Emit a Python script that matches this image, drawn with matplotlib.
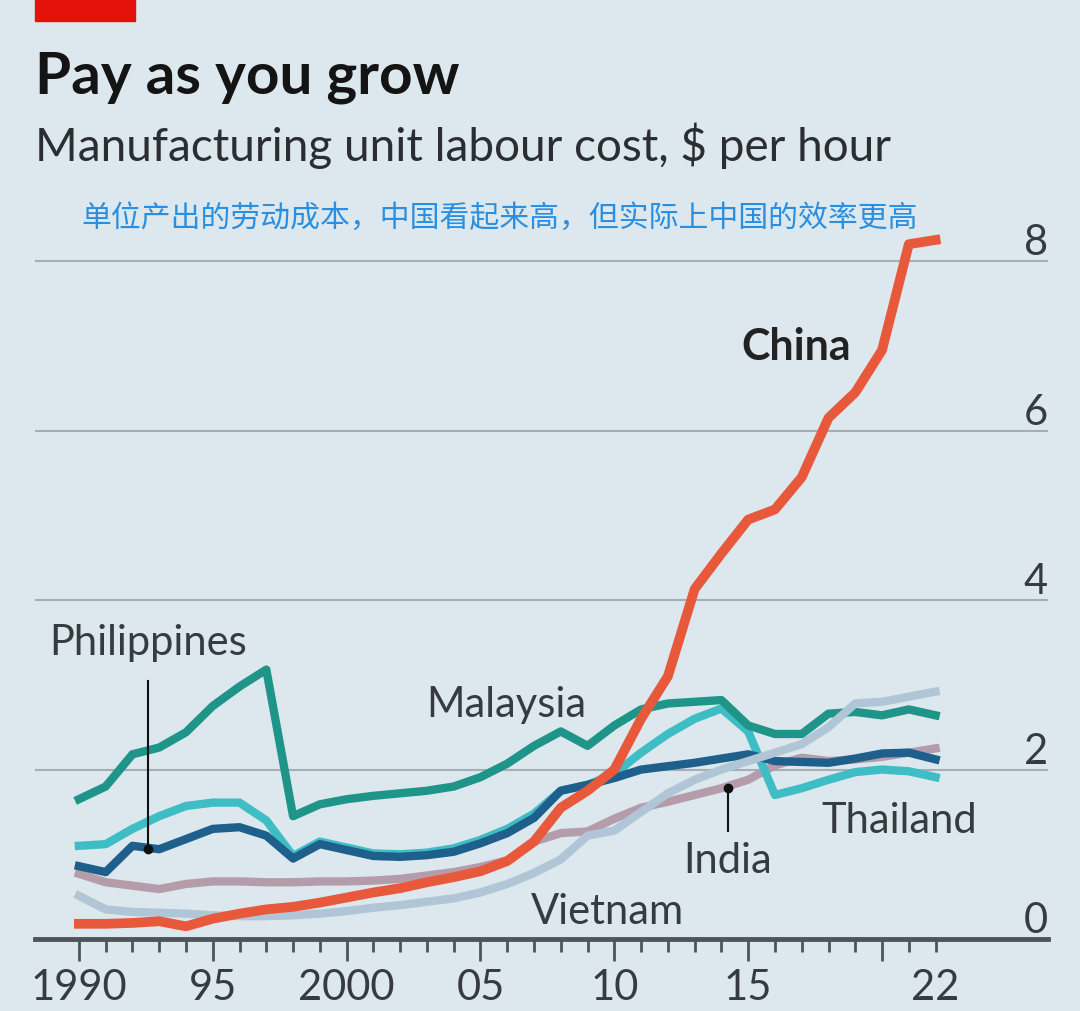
import numpy as np
import matplotlib
matplotlib.use("Agg")
import matplotlib.pyplot as plt
from matplotlib.patches import Rectangle

# data, $ per hour
years = np.arange(1990, 2023)
china = [0.18, 0.18, 0.19, 0.21, 0.15, 0.24, 0.30, 0.35, 0.38, 0.43,
         0.49, 0.55, 0.60, 0.67, 0.73, 0.80, 0.92, 1.15, 1.55, 1.75,
         2.00, 2.60, 3.10, 4.13, 4.55, 4.95, 5.07, 5.45, 6.15, 6.45,
         6.95, 8.20, 8.25]
malaysia = [1.65, 1.80, 2.18, 2.26, 2.44, 2.75, 2.98, 3.18, 1.45, 1.59,
            1.65, 1.69, 1.72, 1.75, 1.80, 1.91, 2.07, 2.28, 2.45, 2.28,
            2.52, 2.71, 2.78, 2.80, 2.82, 2.52, 2.42, 2.42, 2.66, 2.68,
            2.64, 2.71, 2.64]
thailand = [1.10, 1.12, 1.30, 1.45, 1.57, 1.61, 1.61, 1.40, 0.98, 1.15,
            1.08, 1.01, 1.00, 1.02, 1.07, 1.17, 1.30, 1.48, 1.75, 1.82,
            1.95, 2.20, 2.42, 2.60, 2.72, 2.45, 1.70, 1.78, 1.88, 1.97,
            2.00, 1.98, 1.91]
philippines = [0.86, 0.79, 1.10, 1.06, 1.18, 1.30, 1.32, 1.22, 0.95, 1.12,
               1.05, 0.98, 0.97, 0.99, 1.03, 1.13, 1.25, 1.43, 1.75, 1.82,
               1.90, 2.00, 2.04, 2.08, 2.13, 2.18, 2.10, 2.09, 2.08, 2.13,
               2.19, 2.20, 2.12]
india = [0.77, 0.67, 0.63, 0.59, 0.65, 0.68, 0.68, 0.67, 0.67, 0.68,
         0.68, 0.69, 0.71, 0.75, 0.79, 0.85, 0.93, 1.15, 1.25, 1.27,
         1.42, 1.55, 1.62, 1.70, 1.78, 1.88, 2.05, 2.14, 2.10, 2.12,
         2.15, 2.20, 2.25]
vietnam = [0.51, 0.35, 0.32, 0.31, 0.30, 0.28, 0.27, 0.27, 0.28, 0.30,
           0.33, 0.37, 0.40, 0.44, 0.48, 0.55, 0.65, 0.78, 0.94, 1.22,
           1.28, 1.50, 1.72, 1.88, 2.00, 2.10, 2.20, 2.30, 2.50, 2.78,
           2.80, 2.86, 2.92]

xtick_pos = [1990, 1995, 2000, 2005, 2010, 2015, 2020, 2022]
xtick_lab = ['1990', '95', '2000', '05', '10', '15', '', '22']
ytick_pos = [0, 2, 4, 6, 8]

bg = '#dce8ee'
txt = '#363b40'
plt.rcParams['font.family'] = ['Lato', 'DejaVu Sans']

fig = plt.figure(figsize=(10.8, 10.12), dpi=100, facecolor=bg)
ax = fig.add_axes([0.0324, 0.0711, 0.938, 0.731], facecolor=bg)

# series, back to front
ax.plot(years, india, color='#b59cab', lw=6, solid_joinstyle='round')
ax.plot(years, thailand, color='#3fbdc5', lw=6, solid_joinstyle='round')
ax.plot(years, philippines, color='#1e5f8c', lw=6, solid_joinstyle='round')
ax.plot(years, malaysia, color='#1f958a', lw=6, solid_joinstyle='round')
ax.plot(years, vietnam, color='#b0c6d6', lw=6, solid_joinstyle='round')
ax.plot(years, china, color='#e8583b', lw=7, solid_joinstyle='round')

ax.set_xlim(1988.36, 2026.2)
ax.set_ylim(0, 8.73)

for s in ['top', 'left', 'right']:
    ax.spines[s].set_visible(False)
ax.spines['bottom'].set_color('#4d555b')
ax.spines['bottom'].set_linewidth(3.5)
ax.spines['bottom'].set_zorder(5)

ax.set_yticks(ytick_pos)
ax.yaxis.tick_right()
ax.tick_params(axis='y', length=0, pad=0, labelsize=30, labelcolor=txt)
for lbl in ax.get_yticklabels():
    lbl.set_ha('right')
    lbl.set_va('bottom')
ax.grid(axis='y', color='#a4aeb4', lw=1.5, zorder=0)
ax.set_axisbelow(True)

ax.set_xticks(xtick_pos, labels=xtick_lab)
ax.set_xticks(years, minor=True)
ax.tick_params(axis='x', which='major', length=16, width=2, color='#4d555b',
               pad=5, labelsize=30, labelcolor=txt)
ax.tick_params(axis='x', which='minor', length=9.5, width=2, color='#4d555b')
ax.xaxis.get_major_ticks()[-1].tick1line.set_markersize(9.5)

# country labels
ax.text(2016.8, 7.0, 'China', fontsize=31, fontweight='bold', color='#222',
        ha='center', va='center')
ax.text(1992.6, 3.36, 'Philippines', fontsize=30, color=txt, ha='center', va='baseline')
ax.text(2005.97, 2.63, 'Malaysia', fontsize=30, color=txt, ha='center', va='baseline')
ax.text(2020.63, 1.26, 'Thailand', fontsize=30, color=txt, ha='center', va='baseline')
ax.text(2014.25, 0.79, 'India', fontsize=30, color=txt, ha='center', va='baseline')
ax.text(2009.74, 0.19, 'Vietnam', fontsize=30, color=txt, ha='center', va='baseline')

# pointers
ax.plot([1992.57, 1992.57], [3.04, 1.06], color='#111', lw=1.5, zorder=6)
ax.plot([1992.57], [1.06], 'o', color='#111', ms=6, zorder=6)
ax.plot([2014.25, 2014.25], [1.78, 1.27], color='#111', lw=1.5, zorder=6)
ax.plot([2014.25], [1.78], 'o', color='#111', ms=6, zorder=6)

# header
fig.patches.append(Rectangle((35 / 1080, 1 - 22 / 1012), 100 / 1080, 22 / 1012,
                             transform=fig.transFigure, color='#e3120b'))
fig.text(35 / 1080, 1 - 93 / 1012, 'Pay as you grow', fontsize=42,
         fontweight='bold', color='#141414', va='baseline')
fig.text(35 / 1080, 1 - 161 / 1012, 'Manufacturing unit labour cost, $ per hour',
         fontsize=33, color='#2a2e32', va='baseline')
fig.text(500 / 1080, 1 - 218 / 1012, '单位产出的劳动成本，中国看起来高，但实际上中国的效率更高',
         fontsize=21.5, color='#2a8fe0', ha='center', va='center',
         family=['Noto Sans CJK SC', 'DejaVu Sans'])

fig.savefig('out.png', dpi=100, facecolor=bg)
